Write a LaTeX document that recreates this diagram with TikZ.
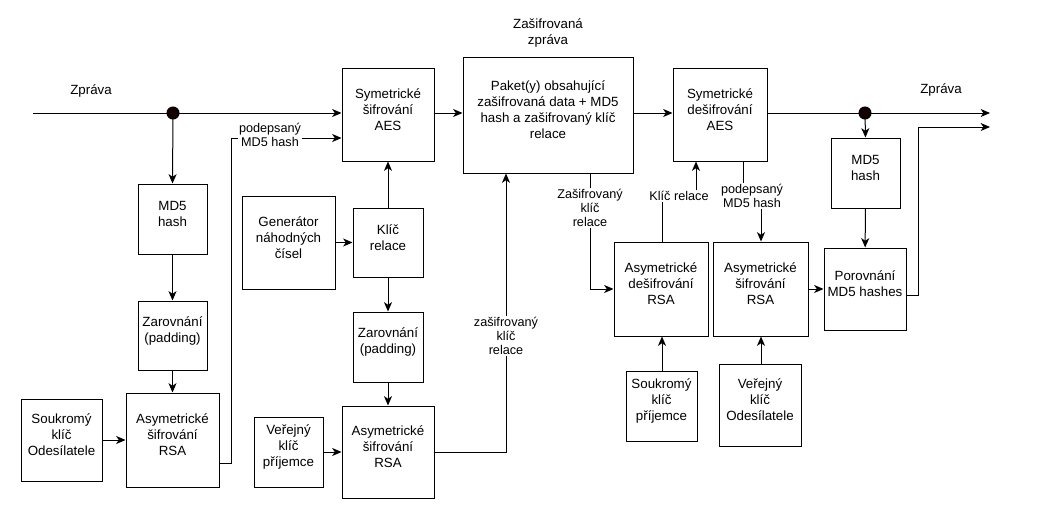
\documentclass[tikz,border=0pt]{standalone}
\usepackage{fontspec}
\setmainfont{Liberation Sans}
\usetikzlibrary{arrows.meta,fit}
\begin{document}
\begin{tikzpicture}[x=0.75pt,y=-0.75pt,
  line width=0.75pt,
  arr/.style={-{Stealth[length=7pt,width=6pt,inset=2pt]}},
  box/.style={draw,rectangle,inner sep=0pt,align=center,font=\fontsize{10}{12}\selectfont},
  elabel/.style={fill=white,inner sep=1pt,align=center,font=\fontsize{9.5}{10.5}\selectfont},
  plain/.style={align=center,font=\fontsize{10}{12}\selectfont},
  junction/.style={circle,fill=black!80!red!40!black,draw=black,inner sep=0pt,minimum size=9pt}]
\useasboundingbox (0,0) rectangle (1043,514);

% boxes
\node[box,fit={(138,184)(207,254)}] (lmd5) {MD5\\hash};
\node[box,fit={(138,301)(207,370)}] (lpad) {Zarovnání\\(padding)};
\node[box,fit={(126,393)(219,487)}] (lrsa) {Asymetrické\\šifrování\\RSA};
\node[box,fit={(21,399)(102,481)}] (lpriv) {Soukromý\\klíč\\Odesílatele};
\node[box,fit={(242,196)(335,289)}] (gen) {Generátor\\náhodných\\čísel};
\node[box,fit={(353,208)(423,277)}] (key) {Klíč\\relace};
\node[box,fit={(342,68)(434,161)}] (aes) {Symetrické\\šifrování\\AES};
\node[box,fit={(353,312)(423,382)}] (mpad) {Zarovnání\\(padding)};
\node[box,fit={(342,406)(434,498)}] (mrsa) {Asymetrické\\šifrování\\RSA};
\node[box,fit={(254,417)(323,487)}] (pub) {Veřejný\\klíč\\příjemce};
\node[box,fit={(463,57)(633,173)}] (packet) {Paket(y) obsahující\\zašifrovaná data + MD5\\hash a zašifrovaný klíč\\relace};
\node[box,fit={(673,68)(767,161)}] (daes) {Symetrické\\dešifrování\\AES};
\node[box,fit={(614,242)(708,336)}] (drsa) {Asymetrické\\dešifrování\\RSA};
\node[box,fit={(713,242)(808,336)}] (ersa) {Asymetrické\\šifrování\\RSA};
\node[box,fit={(626,371)(697,441)}] (rpriv) {Soukromý\\klíč\\příjemce};
\node[box,fit={(719,364)(801,446)}] (spub) {Veřejný\\klíč\\Odesílatele};
\node[box,fit={(824,248)(906,330)}] (cmp) {Porovnání\\MD5 hashes};
\node[box,fit={(831,138)(900,208)}] (rmd5) {MD5\\hash};

% plain labels
\node[plain] (zl) at (91,91) {Zpráva};
\node[plain] (zr) at (941,90) {Zpráva};
\node[plain] (zz) at (548,33) {Zašifrovaná\\zpráva};

% coordinates
\coordinate (start) at (33,113);
\coordinate (endA) at (990,113);
\coordinate (endB) at (990,127);

% left part
\draw[arr] (start) -- (start -| aes.west);
\draw[arr] (173,113) -- (lmd5.north);
\draw[arr] (lmd5) -- (lpad);
\draw[arr] (lpad) -- (lrsa);
\draw[arr] (lpriv) -- (lrsa);
\draw[arr] (lrsa.east |- 0,463) -- (231,463) -- (231,138) -- (aes.west |- 0,138);
\node[elabel] (l1) at (270,135) {podepsaný\\MD5 hash};
\draw[arr] (gen) -- (key);
\draw[arr] (key) -- (aes);
\draw[arr] (key) -- (mpad);
\draw[arr] (mpad) -- (mrsa);
\draw[arr] (pub) -- (mrsa);
\draw[arr] (mrsa.east |- 0,452) -- (506,452) -- (packet.south -| 506,0);
\node[elabel] (l2) at (506,336) {zašifrovaný\\klíč\\relace};
\draw[arr] (aes.east |- 0,113) -- (packet.west |- 0,113);

% right part
\draw[arr] (packet.east |- 0,113) -- (daes.west |- 0,113);
\draw[arr] (packet.south -| 590,0) -- (590,289) -- (drsa.west |- 0,289);
\node[elabel] (l3) at (590,208) {Zašifrovaný\\klíč\\relace};
\draw[arr] (drsa.north -| 662,0) -- (662,196) -- (696,196) -- (daes.south -| 696,0);
\node[elabel] (l4) at (679,196) {Klíč relace};
\draw[arr] (daes.south -| 743,0) -- (743,196) -- (761,196) -- (ersa.north -| 761,0);
\node[elabel] (l5) at (752,196) {podepsaný\\MD5 hash};
\draw[arr] (rpriv.north -| 662,0) -- (drsa.south -| 662,0);
\draw[arr] (spub.north -| 761,0) -- (ersa.south -| 761,0);
\draw[arr] (ersa.east |- 0,289) -- (cmp.west |- 0,289);
\draw[arr] (daes.east |- 0,113) -- (endA);
\draw[arr] (865,113) -- (rmd5.north);
\draw[arr] (rmd5) -- (cmp);
\draw[arr] (cmp.east |- 0,295) -- (918,295) -- (918,127) -- (endB);

% junctions
\node[junction] (j1) at (173,113) {};
\node[junction] (j2) at (865,113) {};
\end{tikzpicture}
\end{document}
